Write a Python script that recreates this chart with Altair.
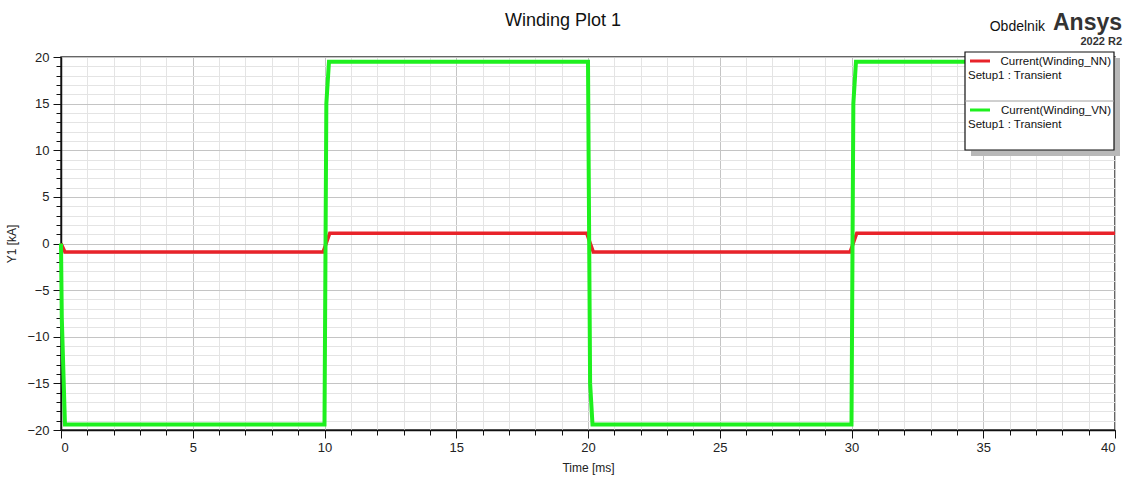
import altair as alt
import pandas as pd

# ---- data ----
t_nn = [0, 0.15, 9.95, 10.2, 19.95, 20.2, 29.95, 30.2, 40]
v_nn = [0, -0.9, -0.9, 1.1, 1.1, -0.9, -0.9, 1.1, 1.1]

t_vn = [0, 0.03, 0.15, 10.0, 10.07, 10.17, 20.0, 20.08, 20.17, 30.0, 30.07, 30.17, 40]
v_vn = [0, -8.0, -19.4, -19.4, 15.0, 19.5, 19.5, -15.0, -19.4, -19.4, 15.0, 19.5, 19.5]

series_names = ["Current(Winding_NN)", "Current(Winding_VN)"]
setup_label = "Setup1 : Transient"
series_colors = ["#e8232a", "#1ef01e"]

x_major = [0, 5, 10, 15, 20, 25, 30, 35, 40]
x_minor = list(range(0, 41))
y_major = [-20, -15, -10, -5, 0, 5, 10, 15, 20]
y_minor = list(range(-20, 21))

title_text = "Winding Plot 1"
project_text = "Obdelnik"
brand_text = "Ansys"
version_text = "2022 R2"

W, H = 1054, 373
FONT = "Liberation Sans"

df_nn = pd.DataFrame({"t": t_nn, "v": v_nn})
df_vn = pd.DataFrame({"t": t_vn, "v": v_vn})

xs = alt.Scale(domain=[0, 40], nice=False, zero=False)
ys = alt.Scale(domain=[-20, 20], nice=False, zero=False)

minor_x_axis = alt.Axis(values=x_minor, grid=True, gridColor="#e4e4e4", gridWidth=1,
                        tickSize=5, tickColor="#111", labels=False, domain=False,
                        title=None, orient="bottom")
minor_y_axis = alt.Axis(values=y_minor, grid=True, gridColor="#e4e4e4", gridWidth=1,
                        tickSize=5, tickColor="#111", labels=False, domain=False,
                        title=None, orient="left")
major_x_axis = alt.Axis(values=x_major, grid=True, gridColor="#c4c4c4", gridWidth=1,
                        tickSize=8, tickColor="#111", domainColor="#111", domainWidth=1.5,
                        labelFont=FONT, labelFontSize=13, labelColor="#222", labelPadding=3,
                        title="Time [ms]", titleFont=FONT, titleFontSize=12,
                        titleFontWeight="normal", titleColor="#222", titlePadding=8,
                        orient="bottom")
major_y_axis = alt.Axis(values=y_major, grid=True, gridColor="#c4c4c4", gridWidth=1,
                        tickSize=8, tickColor="#111", domainColor="#111", domainWidth=1.5,
                        labelFont=FONT, labelFontSize=13, labelColor="#222", labelPadding=4,
                        title="Y1 [kA]", titleFont=FONT, titleFontSize=12,
                        titleFontWeight="normal", titleColor="#222", titlePadding=8,
                        orient="left")

red = alt.Chart(df_nn).mark_line(color=series_colors[0], strokeWidth=3.5).encode(
    x=alt.X("t:Q", scale=xs, axis=minor_x_axis),
    y=alt.Y("v:Q", scale=ys, axis=minor_y_axis),
)
green = alt.Chart(df_vn).mark_line(color=series_colors[1], strokeWidth=4).encode(
    x=alt.X("t:Q", scale=xs, axis=major_x_axis),
    y=alt.Y("v:Q", scale=ys, axis=major_y_axis),
)

one = pd.DataFrame({"a": [0]})
base = alt.Chart(one)

# titles
title = base.mark_text(font=FONT, fontSize=18, color="#111", align="center", baseline="middle").encode(
    x=alt.value(502), y=alt.value(-36), text=alt.value(title_text))
proj = base.mark_text(font=FONT, fontSize=14, color="#111", align="right", baseline="middle").encode(
    x=alt.value(984), y=alt.value(-30), text=alt.value(project_text))
brand = base.mark_text(font=FONT, fontSize=23, fontWeight="bold", color="#333", align="left", baseline="middle").encode(
    x=alt.value(992), y=alt.value(-34), text=alt.value(brand_text))
ver = base.mark_text(font=FONT, fontSize=11, fontWeight="bold", color="#333", align="right", baseline="middle").encode(
    x=alt.value(1061), y=alt.value(-15), text=alt.value(version_text))

# legend box
shadow = base.mark_rect(color="#b8b8b8").encode(
    x=alt.value(910), x2=alt.value(1059), y=alt.value(1), y2=alt.value(99))
box = base.mark_rect(fill="white", stroke="#111", strokeWidth=1.2).encode(
    x=alt.value(904), x2=alt.value(1053), y=alt.value(-5), y2=alt.value(93))
sep = base.mark_rule(color="#a0a0a0", strokeWidth=1).encode(
    x=alt.value(904), x2=alt.value(1053), y=alt.value(44))

legend_layers = []
for i, (name, col) in enumerate(zip(series_names, series_colors)):
    y0 = 4 + i * 49
    legend_layers.append(base.mark_rule(color=col, strokeWidth=3).encode(
        x=alt.value(909), x2=alt.value(929), y=alt.value(y0)))
    legend_layers.append(base.mark_text(font=FONT, fontSize=11.5, color="#111", align="right", baseline="middle").encode(
        x=alt.value(1050), y=alt.value(y0 + 1), text=alt.value(name)))
    legend_layers.append(base.mark_text(font=FONT, fontSize=11.5, color="#111", align="left", baseline="middle").encode(
        x=alt.value(907), y=alt.value(y0 + 15), text=alt.value(setup_label)))

chart = alt.layer(red, green, title, proj, brand, ver, shadow, box, sep, *legend_layers).resolve_axis(
    x="independent", y="independent"
).properties(
    width=W, height=H,
    padding={"left": 61, "top": 57, "right": 15, "bottom": 50},
    autosize=alt.AutoSizeParams(type="none"),
    background="white",
).configure_view(stroke="#333", strokeWidth=1.5)

chart.save("out.html", embed_options={"renderer": "svg", "actions": False})
